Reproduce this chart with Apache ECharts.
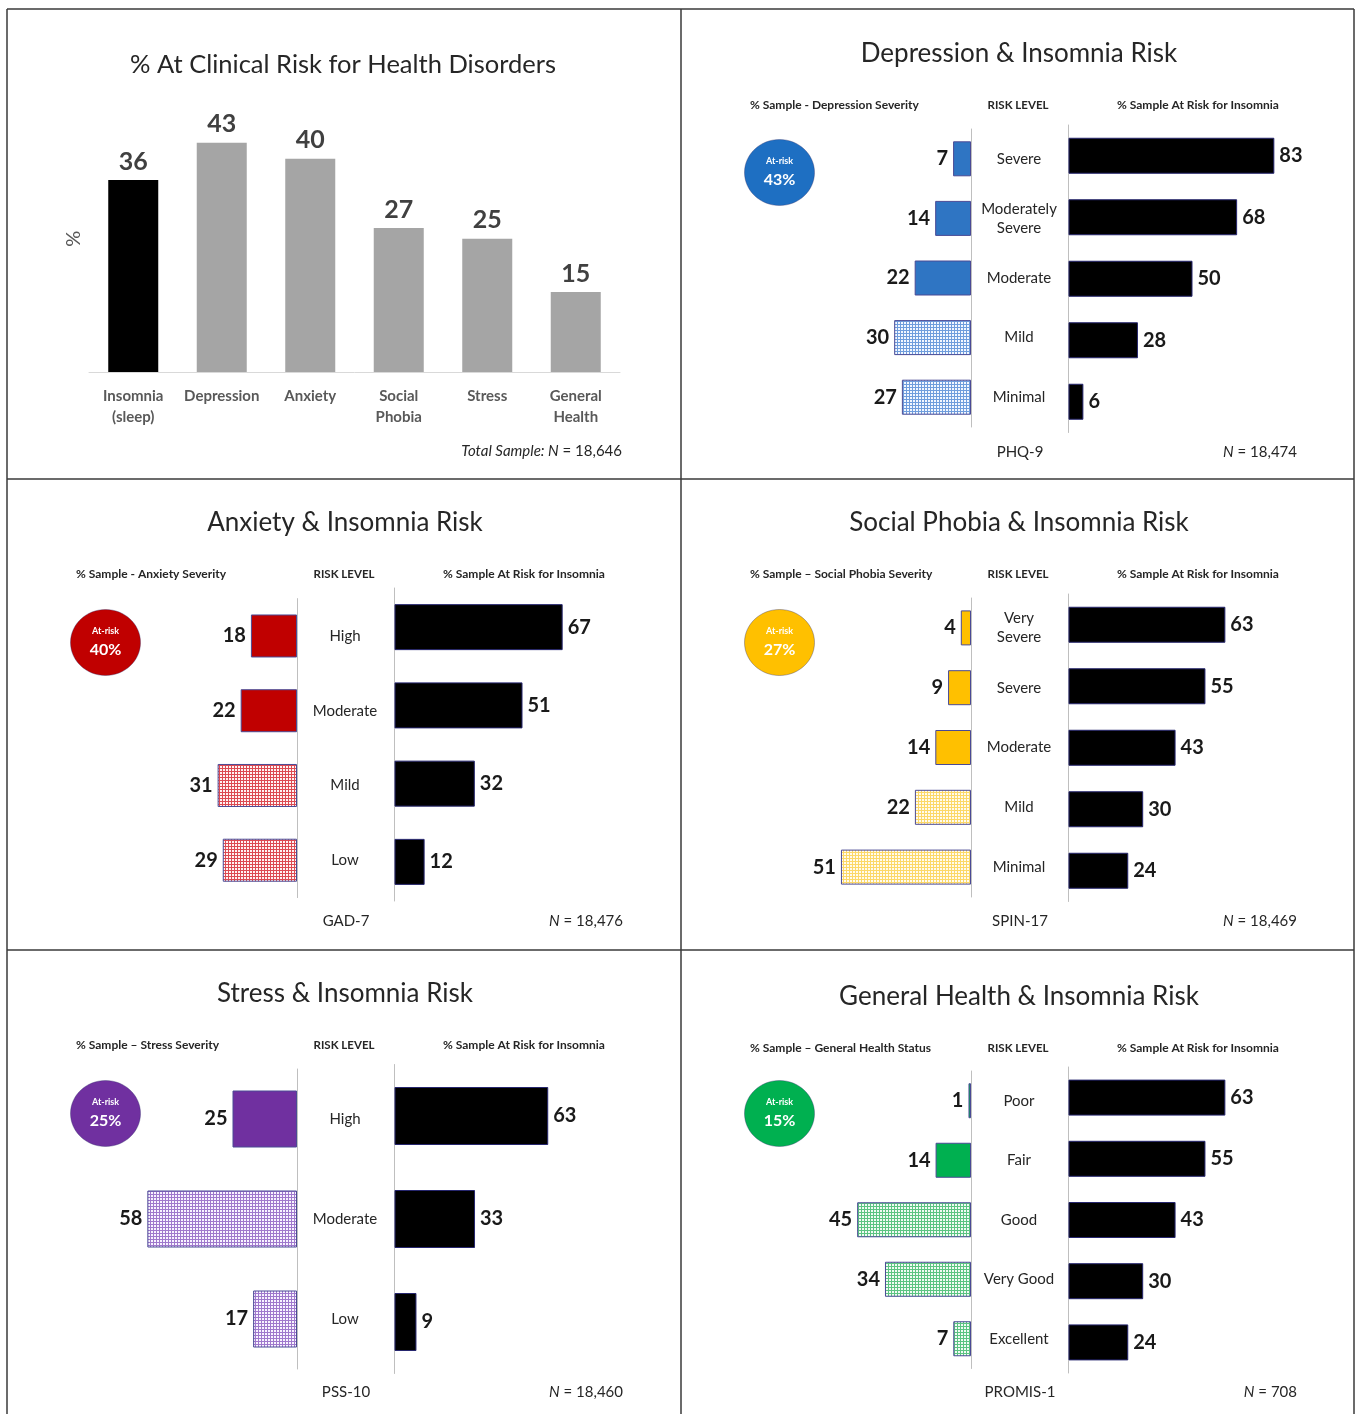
<!DOCTYPE html>
<html><head><meta charset="utf-8">
<script src="https://cdn.jsdelivr.net/npm/echarts@6/dist/echarts.min.js"></script>
<style>html,body{margin:0;padding:0;background:#fff}#c{width:1357px;height:1414px}</style>
</head><body><div id="c"></div>
<script>
// ---------- DATA ----------
const overviewTitle = '% At Clinical Risk for Health Disorders';
const overviewCats = ['Insomnia\n(sleep)', 'Depression', 'Anxiety', 'Social\nPhobia', 'Stress', 'General\nHealth'];
const overviewVals = [36, 43, 40, 27, 25, 15];
const overviewN = '18,646';

const depLevels = ['Severe', 'Moderately\nSevere', 'Moderate', 'Mild', 'Minimal'];
const depSample = [7, 14, 22, 30, 27];
const depInsomnia = [83, 68, 50, 28, 6];
const depAtRisk = 43;

const anxLevels = ['High', 'Moderate', 'Mild', 'Low'];
const anxSample = [18, 22, 31, 29];
const anxInsomnia = [67, 51, 32, 12];
const anxAtRisk = 40;

const spLevels = ['Very\nSevere', 'Severe', 'Moderate', 'Mild', 'Minimal'];
const spSample = [4, 9, 14, 22, 51];
const spInsomnia = [63, 55, 43, 30, 24];
const spAtRisk = 27;

const stLevels = ['High', 'Moderate', 'Low'];
const stSample = [25, 58, 17];
const stInsomnia = [63, 33, 9];
const stAtRisk = 25;

const ghLevels = ['Poor', 'Fair', 'Good', 'Very Good', 'Excellent'];
const ghSample = [1, 14, 45, 34, 7];
const ghInsomnia = [63, 55, 43, 30, 24];
const ghAtRisk = 15;

// ---------- STYLE / LAYOUT ----------
const FONT = 'Lato, "Open Sans", sans-serif';
const TXT = '#262626';

function makePattern(color, tint) {
  const c = document.createElement('canvas');
  c.width = 3; c.height = 3;
  const g = c.getContext('2d');
  g.fillStyle = color; g.fillRect(0, 0, 3, 3);
  g.fillStyle = tint; g.fillRect(1, 1, 2, 2);
  return { image: c, repeat: 'repeat' };
}

const panels = [
  { title: 'Depression & Insomnia Risk', head: '% Sample - Depression Severity', scale: 'PHQ-9', n: '18,474',
    levels: depLevels, sample: depSample, insomnia: depInsomnia, atRisk: depAtRisk,
    color: '#2f75c3', badge: '#1e6fc2', pat: '#6f9ddc', tint: '#f2f7ff',
    ox: 681, oy: 9, titleY: 54, headY: 105, footY: 452,
    lTop: 129, lH: 298, rTop: 125, rH: 307.5, lBar: 35, rBar: 36, lS: 2.56, rS: 2.48 },
  { title: 'Anxiety & Insomnia Risk', head: '% Sample - Anxiety Severity', scale: 'GAD-7', n: '18,476',
    levels: anxLevels, sample: anxSample, insomnia: anxInsomnia, atRisk: anxAtRisk,
    color: '#c00000', badge: '#c00000', pat: '#dc4a52', tint: '#fff3f3',
    ox: 7, oy: 479, titleY: 523, headY: 574, footY: 921,
    lTop: 598.6, lH: 299, rTop: 588, rH: 313, lBar: 43, rBar: 46, lS: 2.56, rS: 2.51 },
  { title: 'Social Phobia & Insomnia Risk', head: '% Sample \u2013 Social Phobia Severity', scale: 'SPIN-17', n: '18,469',
    levels: spLevels, sample: spSample, insomnia: spInsomnia, atRisk: spAtRisk,
    color: '#ffc000', badge: '#ffc000', pat: '#fcd868', tint: '#fffbee',
    ox: 681, oy: 479, titleY: 523, headY: 574, footY: 921,
    lTop: 598, lH: 299, rTop: 594, rH: 307.5, lBar: 35, rBar: 36, lS: 2.55, rS: 2.49 },
  { title: 'Stress & Insomnia Risk', head: '% Sample \u2013 Stress Severity', scale: 'PSS-10', n: '18,460',
    levels: stLevels, sample: stSample, insomnia: stInsomnia, atRisk: stAtRisk,
    color: '#7030a0', badge: '#7030a0', pat: '#9f78cc', tint: '#f8f3ff',
    ox: 7, oy: 950, titleY: 994, headY: 1045, footY: 1392,
    lTop: 1069, lH: 300, rTop: 1064.5, rH: 309, lBar: 57, rBar: 58, lS: 2.58, rS: 2.44 },
  { title: 'General Health & Insomnia Risk', head: '% Sample \u2013 General Health Status', scale: 'PROMIS-1', n: '708',
    levels: ghLevels, sample: ghSample, insomnia: ghInsomnia, atRisk: ghAtRisk,
    color: '#00b050', badge: '#00b050', pat: '#5cc482', tint: '#f1fbf4',
    ox: 681, oy: 950, titleY: 997, headY: 1048, footY: 1392,
    lTop: 1071, lH: 297.5, rTop: 1067, rH: 306, lBar: 35, rBar: 36, lS: 2.53, rS: 2.49 }
];

function txt(x, y, text, size, opts) {
  opts = opts || {};
  return {
    type: 'text', x: x, y: y, z: 100,
    style: Object.assign({
      text: text, fontSize: size, fontFamily: FONT, fill: TXT,
      fontWeight: opts.bold ? 'bold' : 'normal',
      align: opts.align || 'center', textAlign: opts.align || 'center',
      verticalAlign: 'middle', textVerticalAlign: 'middle'
    }, opts.style || {})
  };
}

const grid = [], xAxis = [], yAxis = [], series = [], graphic = [];

// borders
const BC = '#3a3a3a';
[[7, 9, 1354, 9], [7, 9, 7, 1414], [1354, 9, 1354, 1414], [681, 9, 681, 1414], [7, 479, 1354, 479], [7, 950, 1354, 950]]
  .forEach(function (l) {
    graphic.push({ type: 'line', z: 90, shape: { x1: l[0], y1: l[1], x2: l[2], y2: l[3] }, style: { stroke: BC, lineWidth: 1.5 } });
  });

// ---------- Panel 1 ----------
grid.push({ left: 89, top: 105.5, width: 531, height: 266.5 });
xAxis.push({ gridIndex: 0, type: 'category', data: overviewCats,
  axisLine: { lineStyle: { color: '#d9d9d9', width: 1 } }, axisTick: { show: false },
  axisLabel: { interval: 0, margin: 14, fontSize: 15, fontWeight: 'bold', color: '#595959', lineHeight: 21, fontFamily: FONT } });
yAxis.push({ gridIndex: 0, type: 'value', min: 0, max: 50,
  axisLine: { show: false }, axisTick: { show: false }, axisLabel: { show: false }, splitLine: { show: false },
  name: '%', nameLocation: 'middle', nameGap: 5, nameRotate: 90,
  nameTextStyle: { fontSize: 20, color: '#595959', fontFamily: FONT } });
series.push({ type: 'bar', xAxisIndex: 0, yAxisIndex: 0, barWidth: 50,
  data: overviewVals.map(function (v, i) { return { value: v, itemStyle: { color: i === 0 ? '#000000' : '#a5a5a5' } }; }),
  label: { show: true, position: 'top', distance: 6, fontSize: 25, fontWeight: 'bold', color: '#404040', fontFamily: FONT } });
graphic.push(txt(343, 65, overviewTitle, 25.5));
graphic.push(txt(622, 451, '{i|Total Sample: N} {r|= ' + overviewN + '}', 15, { align: 'right',
  style: { rich: { i: { fontStyle: 'italic', fontSize: 15, fontFamily: FONT, fill: TXT }, r: { fontSize: 15, fontFamily: FONT, fill: TXT } } } }));

// ---------- Panels 2-6 ----------
panels.forEach(function (p) {
  const axL = p.ox + 290, axR = p.ox + 387.5;
  const gi = grid.length;
  grid.push({ left: axL - 100 * p.lS, top: p.lTop, width: 100 * p.lS, height: p.lH });
  grid.push({ left: axR, top: p.rTop, width: 100 * p.rS, height: p.rH });
  xAxis.push({ gridIndex: gi, type: 'value', min: 0, max: 100, inverse: true, show: false });
  xAxis.push({ gridIndex: gi + 1, type: 'value', min: 0, max: 100, show: false });
  yAxis.push({ gridIndex: gi, type: 'category', data: p.levels, inverse: true, position: 'right',
    axisLine: { show: true, onZero: false, lineStyle: { color: '#bfbfbf', width: 1 } }, axisTick: { show: false },
    axisLabel: { interval: 0, margin: 48, align: 'center', fontSize: 15, color: TXT, lineHeight: 19, fontFamily: FONT } });
  yAxis.push({ gridIndex: gi + 1, type: 'category', data: p.levels, inverse: true, position: 'left',
    axisLine: { show: true, onZero: false, lineStyle: { color: '#bfbfbf', width: 1 } }, axisTick: { show: false },
    axisLabel: { show: false } });
  const pattern = makePattern(p.pat, p.tint);
  let cum = 0;
  series.push({ type: 'bar', xAxisIndex: gi, yAxisIndex: gi, barWidth: p.lBar,
    data: p.sample.map(function (v) {
      cum += v;
      const solid = cum <= p.atRisk;
      return { value: v, itemStyle: { color: solid ? p.color : pattern, borderColor: '#4a4a95', borderWidth: 1 } };
    }),
    label: { show: true, position: 'left', distance: 5, fontSize: 20, fontWeight: 'bold', color: '#1a1a1a', fontFamily: FONT } });
  series.push({ type: 'bar', xAxisIndex: gi + 1, yAxisIndex: gi + 1, barWidth: p.rBar,
    data: p.insomnia, itemStyle: { color: '#000000', borderColor: '#26266e', borderWidth: 1 },
    label: { show: true, position: 'right', distance: 5, fontSize: 20, fontWeight: 'bold', color: '#1a1a1a', fontFamily: FONT } });

  graphic.push(txt(p.ox + 338, p.titleY, p.title, 26));
  graphic.push(txt(p.ox + 69, p.headY, p.head, 12, { bold: true, align: 'left' }));
  graphic.push(txt(p.ox + 337, p.headY, 'RISK LEVEL', 11.5, { bold: true }));
  graphic.push(txt(p.ox + 436, p.headY, '% Sample At Risk for Insomnia', 12, { bold: true, align: 'left' }));
  graphic.push(txt(p.ox + 339, p.footY, p.scale, 15));
  graphic.push(txt(p.ox + 616, p.footY, '{i|N} {r|= ' + p.n + '}', 15, { align: 'right',
    style: { rich: { i: { fontStyle: 'italic', fontSize: 15, fontFamily: FONT, fill: TXT }, r: { fontSize: 15, fontFamily: FONT, fill: TXT } } } }));
  const cx = p.ox + 98.5, cy = p.oy + 163.5;
  graphic.push({ type: 'ellipse', z: 95, shape: { cx: cx, cy: cy, rx: 35, ry: 33 },
    style: { fill: p.badge, stroke: 'rgba(40,40,100,0.35)', lineWidth: 1 } });
  graphic.push(txt(cx, cy - 11, 'At-risk', 9, { bold: true, style: { fill: '#ffffff' } }));
  graphic.push(txt(cx, cy + 7, p.atRisk + '%', 16, { bold: true, style: { fill: '#ffffff' } }));
});

const chart = echarts.init(document.getElementById('c'), null, { renderer: 'canvas' });
chart.setOption({ animation: false, backgroundColor: '#ffffff', grid: grid, xAxis: xAxis, yAxis: yAxis, series: series, graphic: graphic });
</script>
</body></html>
